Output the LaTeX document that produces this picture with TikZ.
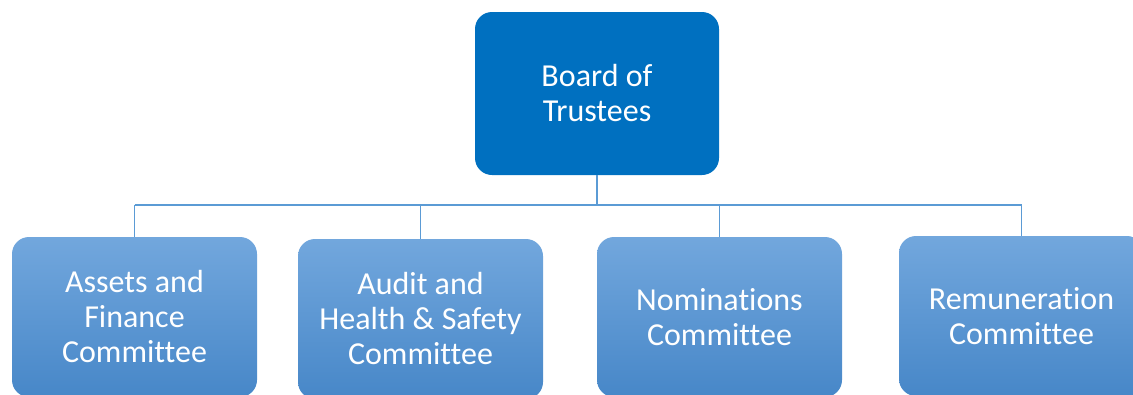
\documentclass[tikz,border=0pt]{standalone}
\usepackage{fontspec}
\setmainfont{Carlito}[Ligatures=NoCommon]
\definecolor{boardblue}{HTML}{0070C0}
\definecolor{cmtop}{HTML}{72A7DD}
\definecolor{cmbottom}{HTML}{4787C8}
\definecolor{linkblue}{HTML}{5B9BD5}
\begin{document}
\begin{tikzpicture}[x=1pt,y=-1pt,
    board/.style={rectangle,rounded corners=17pt,fill=boardblue,text=white,
      minimum width=244pt,minimum height=163pt,align=center,
      font=\fontsize{32}{35}\selectfont},
    committee/.style={rectangle,rounded corners=17pt,top color=cmtop,bottom color=cmbottom,
      text=white,minimum width=245pt,minimum height=160pt,align=center,
      font=\fontsize{32}{35}\selectfont},
    link/.style={draw=linkblue,line width=1.3pt}]
      \useasboundingbox (0,0) rectangle (1133,394);
      \clip (0,0) rectangle (1133,394);
      \node[board] (trustees) at (597,93.5) {Board of\\Trustees};
      \node[committee] (assets) at (134.5,317) {Assets and\\Finance\\Committee};
      \node[committee] (audit) at (420.5,319) {Audit and\\Health \& Safety\\Committee};
      \node[committee] (nominations) at (719.5,317) {Nominations\\Committee};
      \node[committee] (remuneration) at (1021.5,316) {Remuneration\\Committee};
      \coordinate (busleft) at (134.5,205);
      \coordinate (busright) at (1021.5,205);
      \begin{scope}[link]
        \draw (busleft) -- (busright);
        \draw (trustees.south) -- (trustees.south |- busleft);
        \draw (assets.north) -- (assets.north |- busleft);
        \draw (audit.north) -- (audit.north |- busleft);
        \draw (nominations.north) -- (nominations.north |- busleft);
        \draw (remuneration.north) -- (remuneration.north |- busleft);
      \end{scope}
    \end{tikzpicture}
\end{document}
